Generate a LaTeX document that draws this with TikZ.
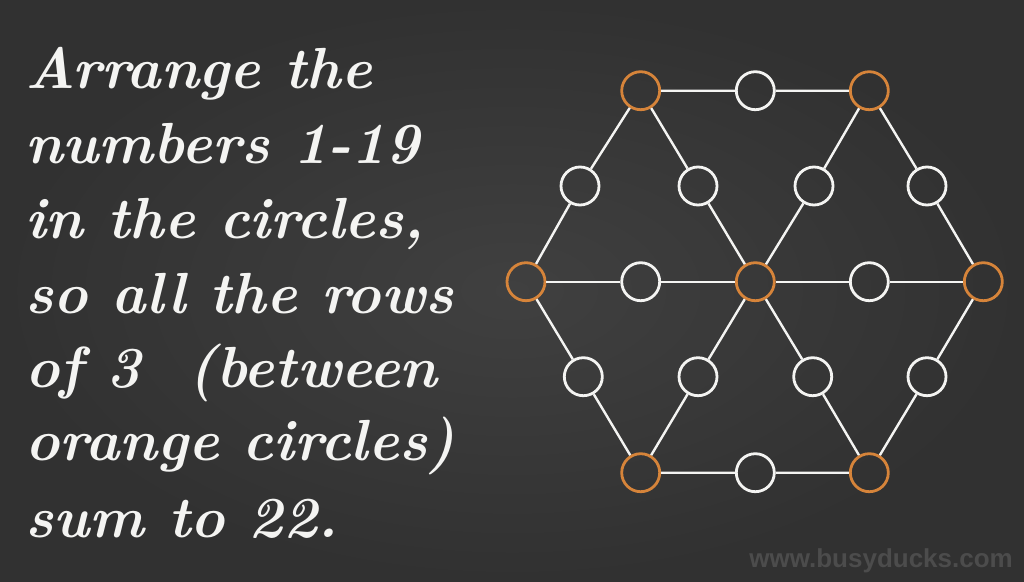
\documentclass[tikz,border=0pt]{standalone}
\usepackage{fontspec}
\newfontfamily\wmfont{Liberation Sans}
\begin{document}
\begin{tikzpicture}[x=1pt,y=-1pt,
  spot/.style={circle,draw=chalk,line width=2.8pt,minimum size=38pt,inner sep=0pt},
  hub/.style={spot,draw=chalkorange},
  link/.style={draw=chalk,line width=2.4pt},
  words/.style={anchor=base west,inner sep=0pt,text=chalk,font=\fontsize{58}{60}\selectfont\bfseries\itshape}]
\definecolor{chalk}{HTML}{F4F4F2}
\definecolor{chalkorange}{HTML}{D6843A}
\definecolor{boardin}{HTML}{404040}
\definecolor{boardout}{HTML}{313131}
\definecolor{wmark}{HTML}{4C4C4C}
\useasboundingbox (0,0) rectangle (1024,581);
\shade[inner color=boardin,outer color=boardout] (0,0) rectangle (1024,581);
% text
\node[words] (t1) at (25,88) {Arrange the};
\node[words] (t2) at (25,163) {numbers 1-19};
\node[words] (t3) at (25,238) {in the circles,};
\node[words] (t4) at (25,313) {so all the rows};
\node[words] (t5) at (25,387) {of 3\ \ (between};
\node[words] (t6) at (25,460) {orange circles)};
\node[words] (t7) at (25,537) {sum to 22.};
\node[anchor=base east,inner sep=0pt,text=wmark,font=\fontsize{26}{28}\selectfont\wmfont\bfseries] (wm) at (1013,567) {www.busyducks.com};
% circles
\node[hub]  (v1) at (640.7,90.7) {};
\node[spot] (m1) at (755.3,90.7) {};
\node[hub]  (v2) at (869.3,90.7) {};
\node[spot] (a) at (580,186) {};
\node[spot] (b) at (698,186) {};
\node[spot] (c) at (814,186) {};
\node[spot] (d) at (927,186) {};
\node[hub]  (v6) at (526,281.7) {};
\node[spot] (e) at (640.7,281.7) {};
\node[hub]  (cc) at (755.3,281.7) {};
\node[spot] (f) at (869.3,281.7) {};
\node[hub]  (v3) at (983.3,281.7) {};
\node[spot] (g) at (583.3,376.7) {};
\node[spot] (h) at (698,376.7) {};
\node[spot] (i) at (812.7,376.7) {};
\node[spot] (j) at (927,376.7) {};
\node[hub]  (v5) at (640.7,472.7) {};
\node[spot] (k) at (755.3,472.7) {};
\node[hub]  (v4) at (869.3,472.7) {};
% perimeter
\path[link] (v1)--(m1) (m1)--(v2) (v2)--(d) (d)--(v3) (v3)--(j) (j)--(v4)
  (v4)--(k) (k)--(v5) (v5)--(g) (g)--(v6) (v6)--(a) (a)--(v1);
% diameters
\path[link] (v6)--(e) (e)--(cc) (cc)--(f) (f)--(v3);
\path[link] (v1)--(b) (b)--(cc) (cc)--(i) (i)--(v4);
\path[link] (v2)--(c) (c)--(cc) (cc)--(h) (h)--(v5);
\end{tikzpicture}
\end{document}
